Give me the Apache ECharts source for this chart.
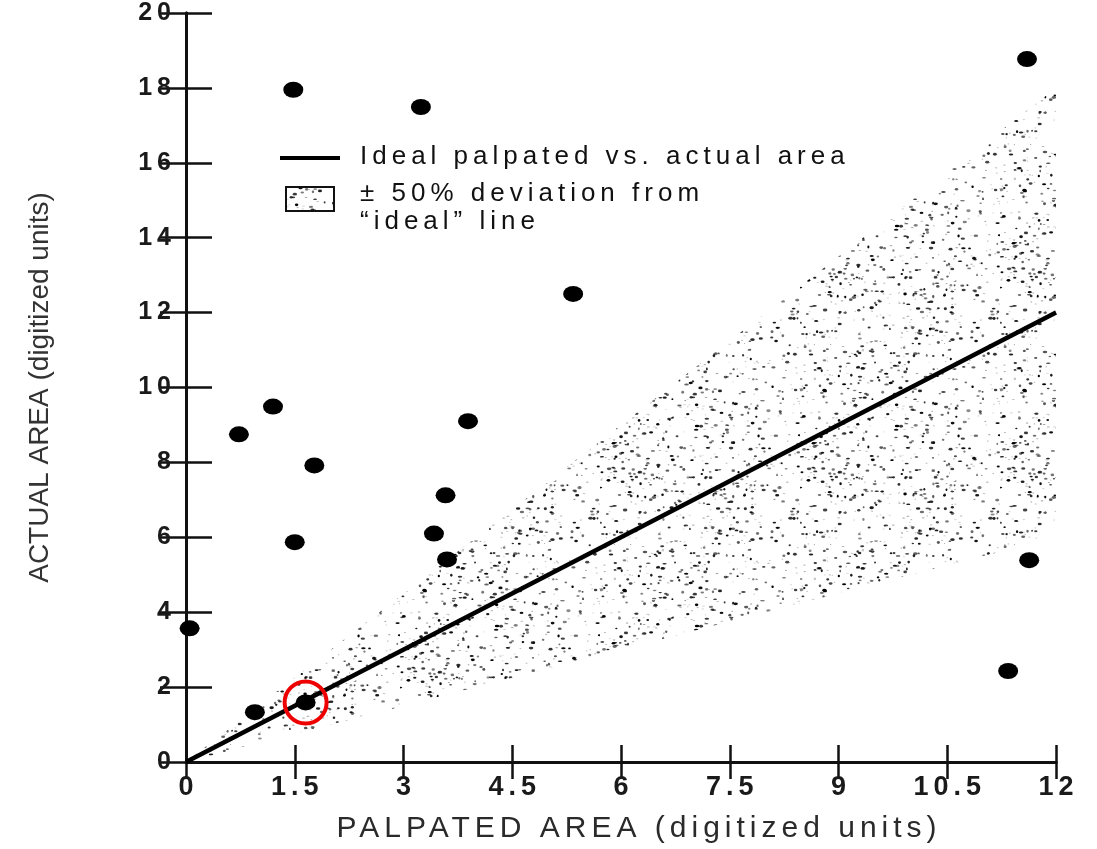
<!DOCTYPE html>
<html>
<head>
<meta charset="utf-8">
<script src="https://cdn.jsdelivr.net/npm/echarts@6/dist/echarts.min.js"></script>
<style>
  html, body { margin: 0; padding: 0; background: #fff; }
  #chart { width: 1097px; height: 849px; }
</style>
</head>
<body>
<div id="chart"></div>
<script>
// Palpated vs. actual area of each lesion (digitized units)
const palpated = [0.05, 0.95, 1.65, 0.73, 1.20, 1.48, 3.24, 1.77, 1.50, 5.34, 3.89, 3.58, 3.42, 3.60, 11.60, 11.63, 11.34];
const actual   = [3.57, 1.33, 1.59, 8.75, 9.49, 17.95, 17.49, 7.92, 5.87, 12.50, 9.10, 7.12, 6.10, 5.41, 18.77, 5.39, 2.43];
// the point ringed in red
const circledIndex = 2;

// ideal line (actual = palpated) and the ±50% band around it
const idealX = [0, 12];
const idealY = [0, 12];
const bandX = [0, 12];
const bandLow = [0, 6];
const bandHigh = [0, 18];

// axis ticks
const xTicks = ['0', '1.5', '3', '4.5', '6', '7.5', '9', '10.5', '12'];
const yTicks = ['0', '2', '4', '6', '8', '10', '12', '14', '16', '18', '20'];

const xTitle = 'PALPATED AREA (digitized units)';
const yTitle = 'ACTUAL AREA (digitized units)';
const legendLine = 'Ideal palpated vs. actual area';
const legendBand = ['± 50% deviation from', '“ideal” line'];

const xMin = Number(xTicks[0]), xMax = Number(xTicks[xTicks.length - 1]);
const xStep = Number(xTicks[1]) - xMin;
const yMin = Number(yTicks[0]), yMax = Number(yTicks[yTicks.length - 1]);
const yStep = Number(yTicks[1]) - yMin;

// Old typeset lettering: horizontal text is spread out a little.
const LETTER_SPACING = '5px';
const baseFillText = CanvasRenderingContext2D.prototype.fillText;
CanvasRenderingContext2D.prototype.fillText = function () {
  const t = this.getTransform();
  const horizontal = Math.abs(t.b) < 1e-6 && Math.abs(t.c) < 1e-6;
  const prev = this.letterSpacing;
  if (horizontal) this.letterSpacing = LETTER_SPACING;
  baseFillText.apply(this, arguments);
  if (horizontal) this.letterSpacing = prev;
};

// Stippled fill for the deviation band
function makeStipple() {
  const size = 200;
  const c = document.createElement('canvas');
  c.width = size; c.height = size;
  const g = c.getContext('2d');
  let seed = 20240611;
  const rnd = () => { seed = (seed * 1664525 + 1013904223) >>> 0; return seed / 4294967296; };
  for (let i = 0; i < 470; i++) {
    const x = rnd() * size, y = rnd() * size;
    const w = 1.8 + rnd() * 2.8, h = 1.4 + rnd() * 1.6;
    const a = 0.45 + rnd() * 0.55;
    g.fillStyle = 'rgba(0,0,0,' + a.toFixed(2) + ')';
    g.beginPath();
    g.ellipse(x, y, w / 2, h / 2, 0, 0, Math.PI * 2);
    g.fill();
  }
  for (let i = 0; i < 300; i++) {
    const x = rnd() * size, y = rnd() * size;
    g.fillStyle = 'rgba(0,0,0,' + (0.15 + rnd() * 0.25).toFixed(2) + ')';
    g.fillRect(x, y, 1 + rnd() * 1.5, 1);
  }
  return c;
}
const stipple = { image: makeStipple(), repeat: 'repeat' };

const FONT = '"Liberation Sans", Arial, sans-serif';
const axisLineStyle = { color: '#111', width: 3 };

const chart = echarts.init(document.getElementById('chart'), null, { renderer: 'canvas' });

const points = palpated.map((x, i) => [x, actual[i]]);

chart.setOption({
  animation: false,
  backgroundColor: '#fff',
  grid: { left: 186, right: 41, top: 13, bottom: 86, containLabel: false },
  xAxis: [
    {
      type: 'value', position: 'bottom', min: xMin, max: xMax, interval: xStep,
      axisLine: { show: true, lineStyle: axisLineStyle },
      axisTick: { show: true, inside: true, length: 17, lineStyle: { color: '#111', width: 2.5 } },
      splitLine: { show: false },
      axisLabel: {
        margin: 12, fontSize: 27, fontWeight: 'bold', color: '#1a1a1a', fontFamily: FONT,
        padding: [0, 0, 0, 5],
        formatter: v => xTicks[Math.round((v - xMin) / xStep)]
      },
      name: xTitle, nameLocation: 'middle', nameGap: 52,
      nameTextStyle: { fontSize: 30, color: '#2a2a2a', fontFamily: FONT, padding: [0, 0, 0, 36] }
    },
    {
      type: 'value', position: 'top', min: xMin, max: xMax, interval: xStep,
      axisLine: { show: true, lineStyle: axisLineStyle },
      axisTick: { show: true, inside: true, length: 17, lineStyle: { color: '#111', width: 2.5 } },
      axisLabel: { show: false }, splitLine: { show: false }
    }
  ],
  yAxis: [
    {
      type: 'value', position: 'left', min: yMin, max: yMax, interval: yStep,
      axisLine: { show: true, lineStyle: axisLineStyle },
      axisTick: { show: true, inside: true, length: 26, lineStyle: { color: '#111', width: 2.5 } },
      splitLine: { show: false },
      axisLabel: {
        margin: 10, fontSize: 25, fontWeight: 'bold', color: '#1a1a1a', fontFamily: FONT,
        formatter: v => yTicks[Math.round((v - yMin) / yStep)]
      },
      name: yTitle, nameLocation: 'middle', nameGap: 132,
      nameTextStyle: { fontSize: 28, color: '#333', fontFamily: FONT }
    },
    {
      type: 'value', position: 'right', min: yMin, max: yMax, interval: yStep,
      axisLine: { show: true, lineStyle: axisLineStyle },
      axisTick: { show: true, inside: true, length: 26, lineStyle: { color: '#111', width: 2.5 } },
      axisLabel: { show: false }, splitLine: { show: false }
    }
  ],
  series: [
    {
      name: 'band', type: 'custom', xAxisIndex: 0, yAxisIndex: 0, z: 1, silent: true,
      data: [[bandX[0], bandLow[0]]],
      renderItem: function (params, api) {
        const upper = bandX.map((x, i) => api.coord([x, bandHigh[i]]));
        const lower = bandX.map((x, i) => api.coord([x, bandLow[i]])).reverse();
        return { type: 'polygon', shape: { points: upper.concat(lower) }, style: { fill: stipple } };
      }
    },
    {
      name: 'ideal', type: 'line', xAxisIndex: 0, yAxisIndex: 0, z: 3, silent: true,
      data: idealX.map((x, i) => [x, idealY[i]]),
      symbol: 'none', lineStyle: { color: '#000', width: 4.5 }
    },
    {
      name: 'lesions', type: 'scatter', xAxisIndex: 0, yAxisIndex: 0, z: 4,
      data: points, symbol: 'circle', symbolSize: [20, 16],
      itemStyle: { color: '#000', opacity: 1 }
    },
    {
      name: 'ringed', type: 'scatter', xAxisIndex: 0, yAxisIndex: 0, z: 5, silent: true,
      data: [points[circledIndex]], symbol: 'circle', symbolSize: 42,
      itemStyle: { color: 'rgba(0,0,0,0)', borderColor: '#ee0000', borderWidth: 4, opacity: 1 }
    }
  ],
  graphic: [
    { type: 'line', shape: { x1: 280, y1: 158, x2: 340, y2: 158 }, style: { stroke: '#000', lineWidth: 4 }, z: 10 },
    { type: 'text', left: 360, top: 144, style: { text: legendLine, fontSize: 26, fontFamily: FONT, fill: '#111' }, z: 10 },
    { type: 'rect', shape: { x: 286, y: 187, width: 48, height: 24 }, style: { fill: stipple, stroke: '#111', lineWidth: 2 }, z: 10 },
    { type: 'text', left: 360, top: 181, style: { text: legendBand[0], fontSize: 26, fontFamily: FONT, fill: '#111' }, z: 10 },
    { type: 'text', left: 360, top: 209, style: { text: legendBand[1], fontSize: 26, fontFamily: FONT, fill: '#111' }, z: 10 }
  ]
});
</script>
</body>
</html>
